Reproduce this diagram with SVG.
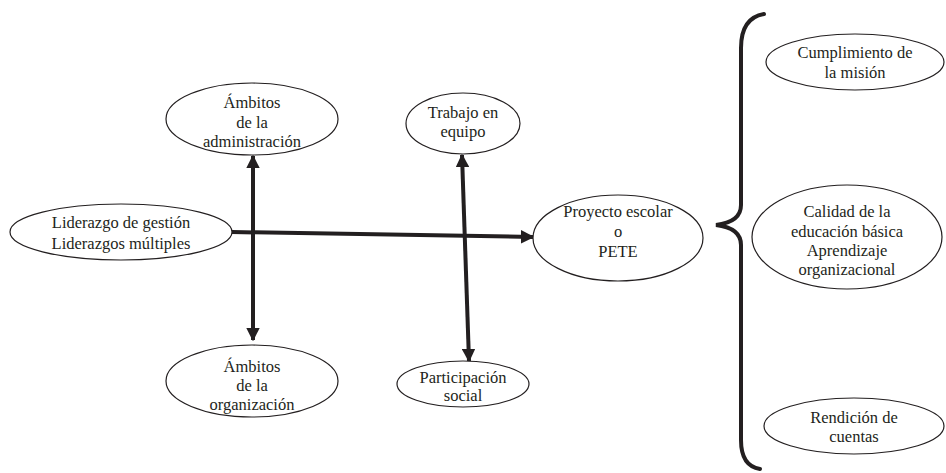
<svg xmlns="http://www.w3.org/2000/svg" width="946" height="473" viewBox="0 0 946 473">
<defs>
<style>
.n ellipse{fill:#fff;stroke:#231f20;stroke-width:1.2}
.n text{font-family:'Liberation Serif','Times New Roman',Tinos,'Noto Serif','DejaVu Serif',serif;font-size:16.5px;fill:#231f20;text-anchor:middle}
.c{stroke:#231f20;stroke-width:4;fill:none}
.b{stroke:#231f20;stroke-width:4;fill:none;stroke-linecap:round}
</style>
<marker id="ah" viewBox="0 0 10 10" refX="9" refY="5" markerWidth="3.4" markerHeight="3.4" orient="auto-start-reverse" markerUnits="strokeWidth">
<path d="M0,0 L10,5 L0,10 Z" fill="#231f20"/>
</marker>
</defs>
<rect width="946" height="473" fill="#fff"/>
<g id="connectors">
<path class="c" d="M232,232 L533,237" marker-end="url(#ah)"/>
<path class="c" d="M253,156 L253,340" marker-start="url(#ah)" marker-end="url(#ah)"/>
<path class="c" d="M462,155 L469,361" marker-start="url(#ah)" marker-end="url(#ah)"/>
</g>
<g id="brace">
<path class="b" d="M764,14 Q741,18 741,48 L741,205 Q741,222 716,225 Q741,228 741,245 L741,440 Q741,466 760,469"/>
</g>
<g id="liderazgo" class="n">
<ellipse cx="121" cy="232" rx="111" ry="28"/>
<text x="121" y="228">Liderazgo de gestión</text>
<text x="121" y="249">Liderazgos múltiples</text>
</g>
<g id="ambitos-admin" class="n">
<ellipse cx="252" cy="119" rx="86" ry="36"/>
<text x="252" y="108">Ámbitos</text>
<text x="252" y="128">de la</text>
<text x="252" y="147">administración</text>
</g>
<g id="ambitos-org" class="n">
<ellipse cx="252" cy="381" rx="86" ry="36"/>
<text x="252" y="372">Ámbitos</text>
<text x="252" y="391">de la</text>
<text x="252" y="410">organización</text>
</g>
<g id="trabajo" class="n">
<ellipse cx="463" cy="123.5" rx="57" ry="30.5"/>
<text x="463" y="118">Trabajo en</text>
<text x="463" y="137">equipo</text>
</g>
<g id="participacion" class="n">
<ellipse cx="463" cy="384" rx="66" ry="23"/>
<text x="463" y="383">Participación</text>
<text x="463" y="401">social</text>
</g>
<g id="proyecto" class="n">
<ellipse cx="618" cy="238" rx="85" ry="43"/>
<text x="618" y="217">Proyecto escolar</text>
<text x="618" y="237">o</text>
<text x="618" y="257">PETE</text>
</g>
<g id="cumplimiento" class="n">
<ellipse cx="855" cy="62" rx="89" ry="28"/>
<text x="855" y="58">Cumplimiento de</text>
<text x="855" y="78">la misión</text>
</g>
<g id="calidad" class="n">
<ellipse cx="847" cy="237" rx="95" ry="52"/>
<text x="847" y="217">Calidad de la</text>
<text x="847" y="237">educación básica</text>
<text x="847" y="256">Aprendizaje</text>
<text x="847" y="275">organizacional</text>
</g>
<g id="rendicion" class="n">
<ellipse cx="854" cy="426" rx="90" ry="28"/>
<text x="854" y="423">Rendición de</text>
<text x="854" y="442">cuentas</text>
</g>
</svg>
